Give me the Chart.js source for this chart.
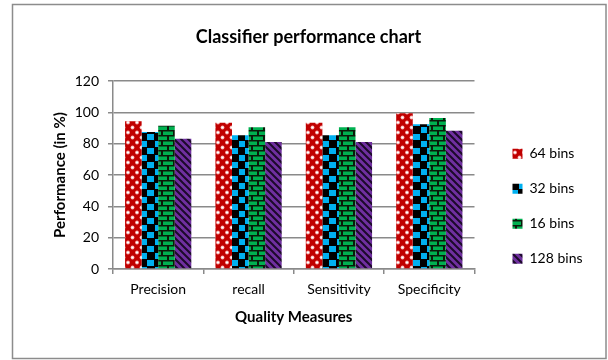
<!DOCTYPE html>
<html>
<head>
<meta charset="utf-8">
<script src="https://cdn.jsdelivr.net/npm/chart.js@4/dist/chart.umd.min.js"></script>
<style>
  html, body { margin: 0; padding: 0; background: #ffffff; }
  canvas { display: block; }
</style>
</head>
<body>
<canvas id="chart" width="608" height="360"></canvas>
<script>
// Quality measures on the x axis
const categories = ['Precision', 'recall', 'Sensitivity', 'Specificity'];

// Performance (%) per histogram bin count
const bins64  = [94.3, 93.4, 93.4, 99.4];
const bins32  = [87.5, 85.4, 85.4, 92.4];
const bins16  = [91.5, 90.4, 90.4, 96.4];
const bins128 = [83.2, 81.0, 81.0, 88.3];

const seriesNames = ['64 bins', '32 bins', '16 bins', '128 bins'];

// y axis range and tick step
const yMin = 0;
const yMax = 120;
const yStep = 20;

const AXIS_GREY = '#8a8a8a';
const FONT = 'Lato, "Open Sans", "Liberation Sans", sans-serif';

const canvas = document.getElementById('chart');
const mainCtx = canvas.getContext('2d');

// Build a repeating fill pattern from a small tile
function makePattern(w, h, paint) {
  const tile = document.createElement('canvas');
  tile.width = w;
  tile.height = h;
  const g = tile.getContext('2d');
  paint(g, w, h);
  return mainCtx.createPattern(tile, 'repeat');
}

// red with white dots
const dotsRed = makePattern(9, 10, (g, w, h) => {
  g.fillStyle = '#c00000';
  g.fillRect(0, 0, w, h);
  g.fillStyle = 'rgba(255,190,190,0.9)';
  [[2, 2.5], [6.5, 7.5]].forEach(([x, y]) => {
    g.beginPath(); g.arc(x, y, 1.9, 0, Math.PI * 2); g.fill();
  });
  g.fillStyle = '#ffffff';
  [[2, 2.5], [6.5, 7.5]].forEach(([x, y]) => {
    g.beginPath(); g.arc(x, y, 1.1, 0, Math.PI * 2); g.fill();
  });
});

// blue / black large checkerboard
const checkBlue = makePattern(14, 14, (g, w, h) => {
  g.fillStyle = '#000000';
  g.fillRect(0, 0, w, h);
  g.fillStyle = '#00b0f0';
  g.fillRect(1, 1, 6, 6);
  g.fillRect(8, 8, 6, 6);
  g.fillRect(7, 8, 1, 6);
});

// green bricks with black mortar
const brickGreen = makePattern(12, 10, (g, w, h) => {
  g.fillStyle = '#00b050';
  g.fillRect(0, 0, w, h);
  g.fillStyle = '#0a1a0a';
  g.fillRect(0, 0, w, 1.5);
  g.fillRect(0, 5, w, 1.5);
  g.fillRect(5, 0, 2, 5);
  g.fillRect(0, 5, 1, 5);
  g.fillRect(11, 5, 1, 5);
});

// purple with dark diagonal stripes
const stripePurple = makePattern(7, 7, (g, w, h) => {
  g.fillStyle = '#7030a0';
  g.fillRect(0, 0, w, h);
  g.strokeStyle = '#1c0a2a';
  g.lineWidth = 2;
  g.beginPath();
  g.moveTo(-1, -1); g.lineTo(w + 1, h + 1);
  g.moveTo(-1, h - 1); g.lineTo(1, h + 1);
  g.moveTo(w - 1, -1); g.lineTo(w + 1, 1);
  g.stroke();
});

// white page with a thin grey frame
const framePlugin = {
  id: 'frame',
  beforeDraw(chart) {
    const g = chart.ctx;
    g.save();
    g.fillStyle = '#ffffff';
    g.fillRect(0, 0, chart.width, chart.height);
    g.strokeStyle = '#8c8c8c';
    g.lineWidth = 1.5;
    g.strokeRect(12.5, 4.5, 593.5, 354);
    g.restore();
  }
};

new Chart(canvas, {
  type: 'bar',
  data: {
    labels: categories,
    datasets: [
      { label: seriesNames[0], data: bins64,  backgroundColor: dotsRed,      borderWidth: 0 },
      { label: seriesNames[1], data: bins32,  backgroundColor: checkBlue,    borderWidth: 0 },
      { label: seriesNames[2], data: bins16,  backgroundColor: brickGreen,   borderWidth: 0 },
      { label: seriesNames[3], data: bins128, backgroundColor: stripePurple, borderWidth: 0 }
    ]
  },
  options: {
    responsive: false,
    animation: false,
    devicePixelRatio: 1,
    categoryPercentage: 0.733,
    barPercentage: 1.0,
    layout: { padding: { left: 34, right: 25, top: 14, bottom: 30 } },
    plugins: {
      title: {
        display: true,
        text: 'Classifier performance chart',
        color: '#000000',
        font: { family: FONT, size: 18, weight: 'bold' },
        padding: { top: 12, bottom: 33.4 }
      },
      legend: {
        display: true,
        position: 'right',
        align: 'center',
        // blank heading used only to push the entries down
        title: {
          display: true,
          text: ' ',
          font: { family: FONT, size: 13 },
          padding: { top: 53, bottom: 0 }
        },
        labels: {
          color: '#000000',
          font: { family: FONT, size: 14 },
          boxWidth: 10,
          boxHeight: 10,
          padding: 21
        }
      },
      tooltip: { enabled: false }
    },
    scales: {
      x: {
        grid: {
          display: true,
          drawOnChartArea: false,
          drawTicks: true,
          tickLength: 5,
          color: AXIS_GREY,
          lineWidth: 1.5,
          offset: true
        },
        border: { color: AXIS_GREY, width: 1.5 },
        ticks: {
          color: '#000000',
          font: { family: FONT, size: 14 },
          padding: 7
        },
        title: {
          display: true,
          text: 'Quality Measures',
          color: '#000000',
          font: { family: FONT, size: 15, weight: 'bold' },
          padding: { top: 0, bottom: 4 }
        },
        afterFit(scale) { scale.height = 61; }
      },
      y: {
        min: yMin,
        max: yMax,
        grid: {
          color: AXIS_GREY,
          lineWidth: 1.5,
          tickLength: 5
        },
        border: { color: AXIS_GREY, width: 1.5 },
        ticks: {
          stepSize: yStep,
          color: '#000000',
          font: { family: FONT, size: 14 },
          padding: 9
        },
        title: {
          display: true,
          text: 'Performance (in %)',
          color: '#000000',
          font: { family: FONT, size: 15, weight: 'bold' },
          padding: { top: 17, bottom: 0 }
        },
        afterFit(scale) { scale.width = 79; }
      },
      // empty spacer between the plot and the legend
      gap: {
        type: 'linear',
        position: 'right',
        display: true,
        grid: { display: false },
        border: { display: false },
        ticks: { display: false },
        afterFit(scale) { scale.width = 17; }
      }
    }
  },
  plugins: [framePlugin]
});
</script>
</body>
</html>
